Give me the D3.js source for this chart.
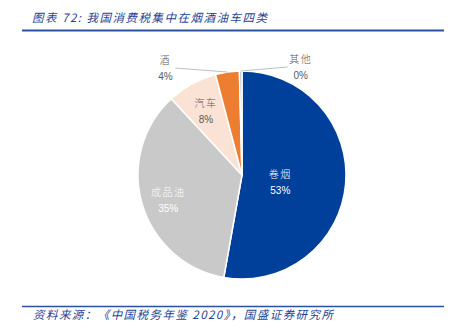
<!DOCTYPE html>
<html>
<head>
<meta charset="utf-8">
<script src="https://cdn.jsdelivr.net/npm/d3@7"></script>
<style>
  body { margin: 0; background: #fff; }
  svg { display: block; }
</style>
</head>
<body>
<svg id="chart" width="458" height="331"></svg>
<script>
// Consumption tax revenue by category (share, %)
const categories = ["卷烟", "成品油", "汽车", "酒", "其他"];
const shares = [52.8, 35.3, 7.8, 3.7, 0.4];
const sliceColors = ["#00409A", "#C9C9C9", "#FAE3D4", "#ED7D31", "#A9BBDA"];

const titleText = "图表 72:  我国消费税集中在烟酒油车四类";
const sourceText = "资料来源：《中国税务年鉴 2020》，国盛证券研究所";

const svg = d3.select("#chart");
const cx = 242, cy = 175, R = 104;
const brand = "#1F4396";
const cjk = "'Noto Sans CJK SC', 'Noto Sans', sans-serif";
const latin = "'Liberation Sans', Arial, sans-serif";

// Title and rule
svg.append("text")
  .attr("x", 32).attr("y", 21.5)
  .attr("font-family", cjk).attr("font-size", 11.5)
  .attr("font-style", "italic")
  .attr("fill", brand)
  .attr("textLength", 235).attr("lengthAdjust", "spacing")
  .text(titleText);
svg.append("line")
  .attr("x1", 22).attr("x2", 444).attr("y1", 30.5).attr("y2", 30.5)
  .attr("stroke", "#2A52A0").attr("stroke-width", 2);

// Source rule and note
svg.append("line")
  .attr("x1", 22).attr("x2", 444).attr("y1", 306.5).attr("y2", 306.5)
  .attr("stroke", "#2A52A0").attr("stroke-width", 1.5);
svg.append("text")
  .attr("x", 33).attr("y", 319)
  .attr("font-family", cjk).attr("font-size", 11.5)
  .attr("font-style", "italic")
  .attr("fill", brand)
  .attr("textLength", 300).attr("lengthAdjust", "spacing")
  .text(sourceText);

// Pie
const data = categories.map((c, i) => ({ name: c, value: shares[i], color: sliceColors[i] }));
const pie = d3.pie().value(d => d.value).sort(null).startAngle(0).endAngle(2 * Math.PI);
const arcs = pie(data);
const arc = d3.arc().innerRadius(0).outerRadius(R);

const g = svg.append("g").attr("transform", `translate(${cx},${cy})`);
g.selectAll("path.slice")
  .data(arcs)
  .join("path")
  .attr("class", "slice")
  .attr("d", arc)
  .attr("fill", d => d.data.color)
  .attr("stroke", "#fff")
  .attr("stroke-width", 1.5)
  .attr("stroke-linejoin", "round");

const pct = v => Math.round(v) + "%";
const mid = d => (d.startAngle + d.endAngle) / 2;
const polar = (a, r) => [Math.sin(a) * r, -Math.cos(a) * r];

// Label placement: inside labels at a fraction of the radius, small slices labelled outside
const insideRadius = { "卷烟": 0.36, "成品油": 0.75, "汽车": 0.74 };
const insideColor = { "卷烟": "#fff", "成品油": "#fff", "汽车": "#595959" };
const outsideOffset = { "酒": -62, "其他": 60 };

function twoLineLabel(x, y, d, color) {
  const t = g.append("text")
    .attr("text-anchor", "middle")
    .attr("fill", color);
  t.append("tspan")
    .attr("x", x).attr("y", y - 4.5)
    .attr("font-family", cjk).attr("font-size", 10)
    .attr("font-weight", 300)
    .attr("letter-spacing", 1.5)
    .text(d.data.name);
  t.append("tspan")
    .attr("x", x).attr("y", y + 11.5)
    .attr("font-family", latin).attr("font-size", 10)
    .text(pct(d.data.value));
}

arcs.forEach(d => {
  const name = d.data.name;
  if (name in insideRadius) {
    const [x, y] = polar(mid(d), insideRadius[name] * R);
    twoLineLabel(x + 1, y + 4, d, insideColor[name]);
  } else {
    const [ex, ey] = polar(mid(d), R);
    const lx = ex + outsideOffset[name];
    const ly = ey - 4;
    const edge = outsideOffset[name] < 0 ? lx + 10 : lx - 13;
    g.append("line")
      .attr("x1", ex).attr("y1", ey)
      .attr("x2", edge).attr("y2", ly)
      .attr("stroke", "#BFBFBF").attr("stroke-width", 1);
    twoLineLabel(lx, ly, d, "#595959");
  }
});
</script>
</body>
</html>
